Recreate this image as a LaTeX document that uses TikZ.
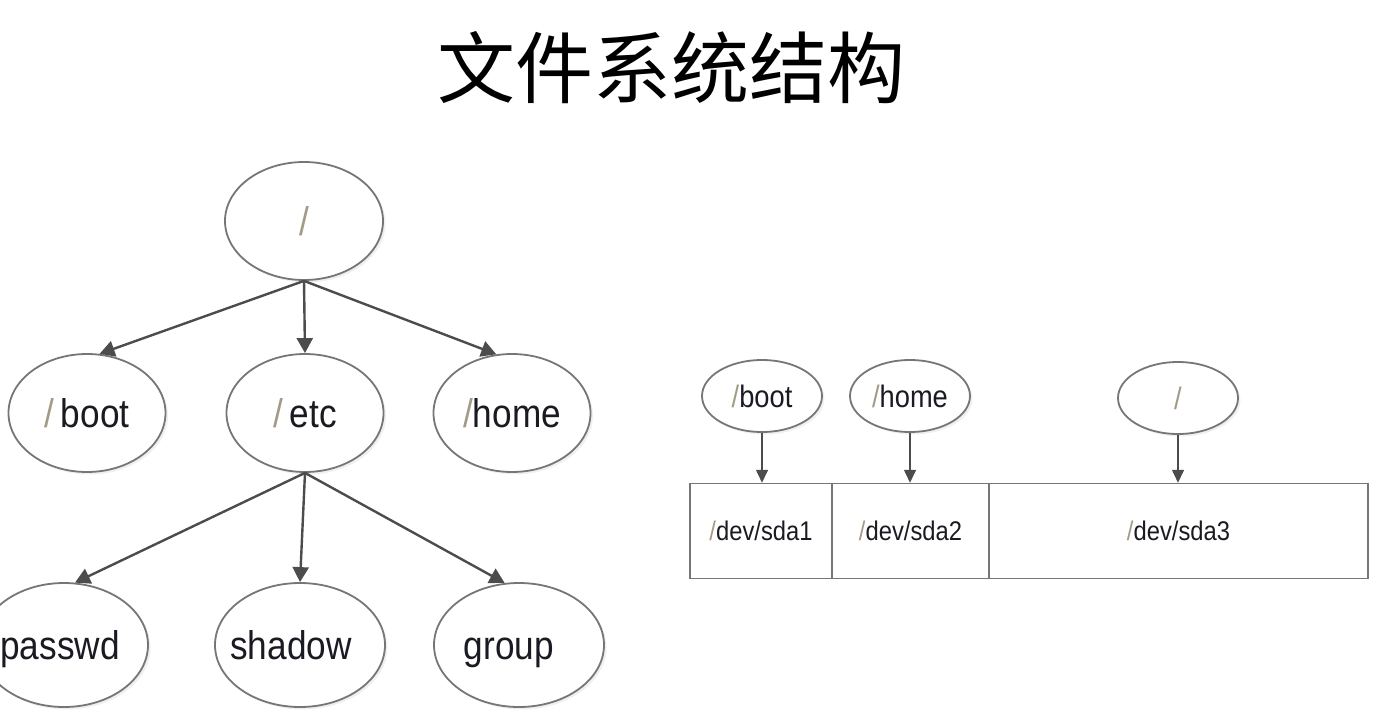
\documentclass[tikz,border=0pt]{standalone}
\usepackage{fontspec}
\setmainfont{Liberation Sans}
\newfontfamily\nar{Liberation Sans}[FakeStretch=0.88]
\newfontfamily\cjk{Noto Sans CJK SC}
\usetikzlibrary{shapes.geometric,arrows.meta,shadows}
\definecolor{edge}{HTML}{4C4C4C}
\definecolor{rim}{HTML}{767676}
\definecolor{slash}{HTML}{A39A88}
\definecolor{ink}{HTML}{1A1A22}
\newcommand\sla{{\color{slash}/}}
\tikzset{
  oval/.style 2 args={ellipse, draw=rim, line width=1.8pt, fill=white, inner sep=0pt,
    minimum width=#1, minimum height=#2, text=ink,
    drop shadow={opacity=0.12, shadow xshift=2.5pt, shadow yshift=-2.5pt}},
  big/.style={font=\nar\fontsize{40}{44}\selectfont, text height=30pt, text depth=2pt},
  small/.style={font=\nar\fontsize{31}{34}\selectfont, text height=23pt, text depth=1pt},
  cellbox/.style={rectangle, draw=rim, line width=1.5pt, inner sep=0pt, minimum height=95pt,
    text=ink, font=\nar\fontsize{27}{30}\selectfont},
  treearrow/.style={draw=edge, line width=2.4pt, -{Triangle[length=15pt,width=16pt]}},
  diskarrow/.style={draw=edge, line width=1.6pt, -{Triangle[length=13pt,width=12pt]}}
}
\begin{document}
\begin{tikzpicture}[x=1pt,y=-1pt]
\useasboundingbox (0,0) rectangle (1378,714);
\node[inner sep=0pt] (title) at (671,68) {\cjk\fontsize{78}{80}\selectfont 文件系统结构};

% left tree
\node[oval={158pt}{118pt}, big] (root) at (304,221) {\sla};
\node[oval={157pt}{118pt}, big] (boot) at (87,413) {\sla\,boot};
\node[oval={157pt}{118pt}, big] (etc) at (305,413) {\sla\,etc};
\node[oval={157pt}{118pt}, big] (home) at (512,413) {\sla home};
\node[oval={168pt}{124pt}, big] (passwd) at (64,645) {\hspace*{-8pt}passwd};
\node[oval={170pt}{124pt}, big] (shadow) at (300,645) {\hspace*{-18pt}shadow};
\node[oval={170pt}{124pt}, big] (group) at (519,645) {\hspace*{-20pt}group};

\draw[treearrow] (root.south) -- (boot.78);
\draw[treearrow] (root.south) -- (etc.north);
\draw[treearrow] (root.south) -- (home.105);
\draw[treearrow] (etc.south) -- (passwd.80);
\draw[treearrow] (etc.south) -- (shadow.north);
\draw[treearrow] (etc.south) -- (group.103);

% right disk
\node[cellbox, minimum width=142pt] (sda1) at (761,531) {\sla dev/sda1};
\node[cellbox, minimum width=157pt] (sda2) at (910.5,531) {\sla dev/sda2};
\node[cellbox, minimum width=379pt] (sda3) at (1178.5,531) {\sla dev/sda3\hspace{20pt}};

\node[oval={120pt}{72pt}, small] (mboot) at (762,396) {\sla boot};
\node[oval={120pt}{72pt}, small] (mhome) at (910,396) {\sla home};
\node[oval={120pt}{72pt}, small] (mroot) at (1178,398) {\sla};

\draw[diskarrow] (mboot.south) -- (mboot.south |- sda1.north);
\draw[diskarrow] (mhome.south) -- (mhome.south |- sda2.north);
\draw[diskarrow] (mroot.south) -- (mroot.south |- sda3.north);
\end{tikzpicture}
\end{document}
